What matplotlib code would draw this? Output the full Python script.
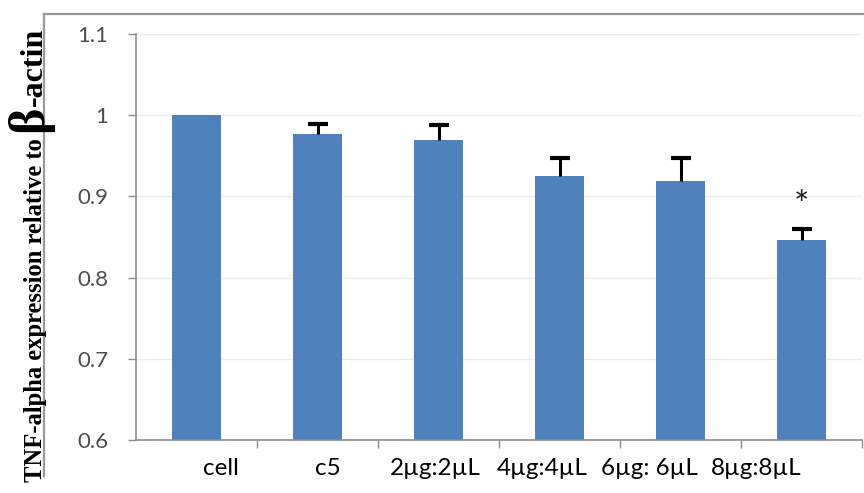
import matplotlib
matplotlib.use("Agg")
import matplotlib.pyplot as plt
from matplotlib.lines import Line2D
import numpy as np

groups = ['cell', 'c5', '2µg:2µL', '4µg:4µL', '6µg: 6µL', '8µg:8µL']
expression = [1.0, 0.977, 0.970, 0.925, 0.919, 0.846]
sd_upper = [0.0, 0.012, 0.018, 0.022, 0.028, 0.014]
significant = [False, False, False, False, False, True]
y_ticks = [0.6, 0.7, 0.8, 0.9, 1.0, 1.1]
y_ticklabels = ['0.6', '0.7', '0.8', '0.9', '1', '1.1']

W, H = 864, 493
fig = plt.figure(figsize=(W / 100, H / 100), dpi=100)
ax = fig.add_axes([136 / W, 1 - 440 / H, 726 / W, 406 / H])

x = np.arange(len(groups))
ax.bar(x, expression, width=0.4, color='#4f81bd', zorder=2)

# only upper error bars, and none for the untreated cells
has_err = [i for i in x if sd_upper[i] > 0]
_, caps, _ = ax.errorbar([x[i] for i in has_err], [expression[i] for i in has_err],
                         yerr=[[0] * len(has_err), [sd_upper[i] for i in has_err]],
                         fmt='none', ecolor='black', elinewidth=2.2, capsize=7,
                         capthick=3, zorder=3)
caps[0].set_visible(False)  # lower caps sit on the bar tops

for i in x:
    if significant[i]:
        ax.text(i, expression[i] + sd_upper[i] + 0.028, '*', ha='center', va='center',
                fontsize=26, family='Lato', color='#222222')

ax.set_xlim(-0.5, len(groups) - 0.5)
ax.set_ylim(0.6, 1.1)
ax.set_yticks(y_ticks)
ax.set_yticklabels(y_ticklabels, family='Lato', fontsize=16, color='#4d4d4d')
ax.set_xticks(np.arange(0.5, len(groups), 1))
ax.set_xticklabels([])
ax.tick_params(axis='y', direction='out', length=6, width=1, color='#8c8c8c', pad=14)
ax.tick_params(axis='x', direction='out', length=6, width=1, color='#8c8c8c')
ax.grid(axis='y', color='#ededed', lw=1, zorder=0)

for side in ['top', 'right']:
    ax.spines[side].set_visible(False)
for side in ['left', 'bottom']:
    ax.spines[side].set_color('#8c8c8c')
    ax.spines[side].set_linewidth(1.2)

# category names sit a little left of the bar centres
for i, name in enumerate(groups):
    ax.text(0.2 + 0.885 * i, -0.07, name, transform=ax.get_xaxis_transform(),
            ha='center', va='center', family='Lato', fontsize=17.5, color='black')

# chart border
fig.add_artist(Line2D([43.5 / W, 1], [1 - 13.5 / H] * 2, color='#999999', lw=1.6))
fig.add_artist(Line2D([43.5 / W] * 2, [1 - 13.5 / H, 1 - 476 / H], color='#999999', lw=1.6))

# y label with a larger beta
renderer = fig.canvas.get_renderer()
bx, by = 42 / W, 1 - 482 / H
parts = [('TNF-alpha expression relative to ', 17.7), ('β', 36), ('-actin', 23)]
for txt, size in parts:
    t = fig.text(bx, by, txt, rotation=90, rotation_mode='anchor', ha='left', va='baseline',
                 family='Liberation Serif', weight='bold', fontsize=size)
    ext = t.get_window_extent(renderer)
    by += ext.height / H

fig.savefig('out.png', dpi=100)
